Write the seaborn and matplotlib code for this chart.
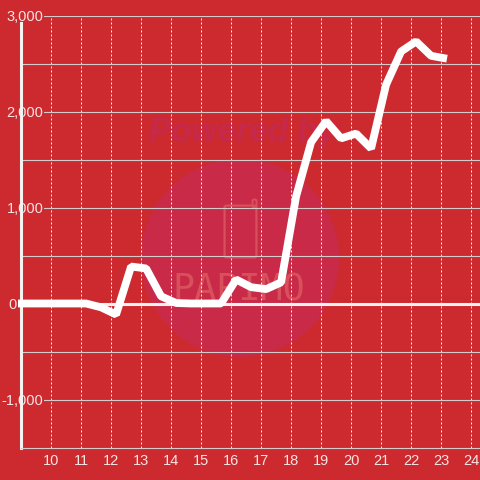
import matplotlib
matplotlib.use("Agg")
import matplotlib.pyplot as plt
from matplotlib.patches import Ellipse, FancyBboxPatch
import pandas as pd
import seaborn as sns

hours = [8.9, 9.17, 9.67, 10.17, 10.67, 11.17, 11.67, 12.17, 12.67, 13.17, 13.67, 14.17,
         14.67, 15.17, 15.67, 16.17, 16.67, 17.17, 17.67, 18.17, 18.67, 19.17, 19.67,
         20.17, 20.67, 21.17, 21.67, 22.17, 22.67, 23.2]
values = [0, 0, 0, 0, 0, 0, -40, -115, 385, 365, 75, 5,
          0, 0, 0, 250, 170, 150, 220, 1115, 1680, 1900, 1720,
          1770, 1615, 2280, 2625, 2730, 2580, 2550]
x_ticks = [10, 11, 12, 13, 14, 15, 16, 17, 18, 19, 20, 21, 22, 23, 24]
y_major = [-1000, 0, 1000, 2000, 3000]
y_labels = ["-1,000", "0", "1,000", "2,000", "3,000"]
y_minor = [-500, 500, 1500, 2500]

BG = "#cc2a2e"
TXT = "#f8e4e4"
MARK = "#d8505c"

sns.set_theme(style="white")
plt.rcParams["font.family"] = ["Liberation Sans", "DejaVu Sans"]

fig = plt.figure(figsize=(4.8, 4.8), dpi=100, facecolor=BG)
ax = fig.add_axes([21 / 480, 32.5 / 480, 459 / 480, 432 / 480], facecolor=BG)

df = pd.DataFrame({"hour": hours, "value": values})

# watermark
ft = fig.transFigure
ax.add_patch(Ellipse((240 / 480, 1 - 258 / 480), 198 / 480, 198 / 480, transform=ft,
                     fc="#c92a48", ec="none", zorder=0))
ax.add_patch(FancyBboxPatch((226 / 480, 1 - 256 / 480), 29 / 480, 49 / 480, transform=ft,
                            boxstyle="round,pad=0.003,rounding_size=0.004",
                            fc="none", ec=MARK, lw=1.6, zorder=0.2))
ax.add_patch(FancyBboxPatch((253 / 480, 1 - 207 / 480), 3 / 480, 7 / 480, transform=ft,
                            boxstyle="round,pad=0.001,rounding_size=0.003",
                            fc="none", ec=MARK, lw=1.4, zorder=0.2))
ax.text(239 / 480, 1 - 290 / 480, "PAPIMO", transform=ft, color=MARK, fontsize=26.5,
        family="DejaVu Sans Mono", ha="center", va="center", zorder=0.2)
ax.text(243 / 480, 1 - 133 / 480, "Powered by", transform=ft, color="#c6294a", fontsize=24,
        fontweight="bold", fontstyle="italic", ha="center", va="center", zorder=0.2)

ax.set_xlim(9, 24.3)
ax.set_ylim(-1500, 3000)
ax.set_xticks(x_ticks)
ax.set_yticks(y_major)
ax.set_yticklabels(y_labels)
ax.set_yticks(y_minor, minor=True)
ax.set_axisbelow(True)

ax.grid(axis="y", which="both", color="#d4cccc", lw=0.8, zorder=1)
ax.grid(axis="x", which="major", color="#f4eeee", lw=0.72, ls=(0, (2, 2)), zorder=1)
ax.axhline(0, color="#f7f2f2", lw=2.2, zorder=1.2)

sns.lineplot(data=df, x="hour", y="value", ax=ax, color="white", lw=5.6, clip_on=False,
             solid_joinstyle="bevel", solid_capstyle="butt", errorbar=None, zorder=3)
ax.set_xlabel("")
ax.set_ylabel("")

for s in ["top", "right"]:
    ax.spines[s].set_visible(False)
ax.spines["left"].set_color("#f7f2f2")
ax.spines["left"].set_linewidth(2.2)
ax.spines["left"].set_bounds(-1500, 2917)
ax.spines["left"].set_zorder(1.5)
ax.spines["bottom"].set_color("#d4cccc")
ax.spines["bottom"].set_linewidth(0.8)

ax.tick_params(axis="x", length=0, pad=5, labelsize=10.5, labelcolor=TXT)
ax.tick_params(axis="y", which="both", length=0, labelsize=10.5, labelcolor=TXT)
for t, lab in zip(ax.yaxis.get_major_ticks(), y_labels):
    t.set_pad(3.2 if lab == "0" else -16.2)
for lab in ax.get_yticklabels():
    if lab.get_text() != "0":
        lab.set_bbox(dict(fc=BG, ec="none", pad=0.6))

fig.savefig("out.png", dpi=100, facecolor=BG)
